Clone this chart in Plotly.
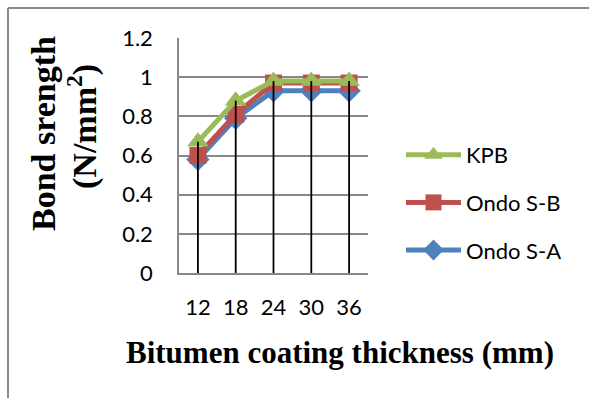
import plotly.graph_objects as go

categories = ["12", "18", "24", "30", "36"]
kpb = [0.67, 0.88, 0.98, 0.98, 0.98]
ondo_sb = [0.60, 0.81, 0.97, 0.97, 0.97]
ondo_sa = [0.58, 0.79, 0.93, 0.93, 0.93]
y_ticks = [0, 0.2, 0.4, 0.6, 0.8, 1.0, 1.2]
y_tick_text = ["0", "0.2", "0.4", "0.6", "0.8", "1", "1.2"]

W, H = 589, 398
L, R, T, B = 179, 221, 38, 125
pw, ph = W - L - R, H - T - B

def px(x):
    return (x - L) / pw

def py(y):
    return (H - B - y) / ph

tick_font = dict(family="Lato, 'Open Sans', sans-serif", size=22, color="#000000")

fig = go.Figure()

fig.add_trace(go.Scatter(x=categories, y=ondo_sa, name="Ondo S-A", mode="lines+markers",
                         line=dict(color="#4F81BD", width=5),
                         marker=dict(symbol="diamond", size=18, color="#4F81BD"),
                         legendgroup="a", legendrank=3))
fig.add_trace(go.Scatter(x=categories, y=ondo_sb, name="Ondo S-B", mode="lines+markers",
                         line=dict(color="#C0504D", width=5),
                         marker=dict(symbol="square", size=17, color="#C0504D"),
                         legendgroup="b", legendrank=2))
fig.add_trace(go.Scatter(x=categories, y=kpb, name="KPB", mode="lines+markers",
                         line=dict(color="#9BBB59", width=5),
                         marker=dict(symbol="triangle-up", size=19, color="#9BBB59"),
                         legendgroup="c", legendrank=1))

# drop lines from highest series to axis
dx, dy = [], []
for c, v in zip(categories, [max(a, b, k) for a, b, k in zip(ondo_sa, ondo_sb, kpb)]):
    dx += [c, c, None]
    dy += [0, v, None]
fig.add_trace(go.Scatter(x=dx, y=dy, mode="lines", line=dict(color="#000000", width=1.8),
                         showlegend=False, hoverinfo="skip"))

fig.update_layout(
    width=W, height=H,
    margin=dict(l=L, r=R, t=T, b=B),
    paper_bgcolor="white", plot_bgcolor="white",
    showlegend=True,
    legend=dict(x=px(401), y=py(134), xanchor="left", yanchor="top",
                traceorder="grouped", tracegroupgap=16, itemwidth=55,
                font=dict(family="Lato, 'Open Sans', sans-serif", size=22, color="#000000"),
                bgcolor="rgba(0,0,0,0)"),
    xaxis=dict(type="category", range=[-0.5, 4.5], showgrid=False, showline=True,
               linecolor="#888888", linewidth=1.5, ticks="", tickfont=tick_font,
               ticklabelstandoff=14, zeroline=False),
    yaxis=dict(range=[0, 1.2], tickvals=y_ticks, ticktext=y_tick_text, showgrid=True,
               gridcolor="#888888", gridwidth=1.5, showline=True, linecolor="#888888",
               linewidth=1.5, ticks="", tickfont=tick_font, ticklabelstandoff=20,
               zeroline=False),
)

fig.add_annotation(text="<b>Bitumen coating thickness (mm)</b>", xref="paper", yref="paper",
                   x=px(340), y=py(352), showarrow=False,
                   font=dict(family="'Liberation Serif', serif", size=31, color="#000000"),
                   xanchor="center", yanchor="middle")
fig.add_annotation(text="<b>Bond srength</b>", xref="paper", yref="paper",
                   x=px(43), y=py(134), showarrow=False,
                   font=dict(family="'Liberation Serif', serif", size=34, color="#000000"),
                   textangle=-90, xanchor="center", yanchor="middle")
fig.add_annotation(text="<b>(N/mm<sup>2</sup>)</b>", xref="paper", yref="paper",
                   x=px(82), y=py(127), showarrow=False,
                   font=dict(family="'Liberation Serif', serif", size=34, color="#000000"),
                   textangle=-90, xanchor="center", yanchor="middle")

# outer border (top and left)
fig.add_shape(type="line", xref="paper", yref="paper", x0=px(8), x1=px(W + 5), y0=py(8), y1=py(8),
              line=dict(color="#888888", width=2))
fig.add_shape(type="line", xref="paper", yref="paper", x0=px(8), x1=px(8), y0=py(8), y1=py(H + 5),
              line=dict(color="#888888", width=2))

fig.write_html("out.html")
